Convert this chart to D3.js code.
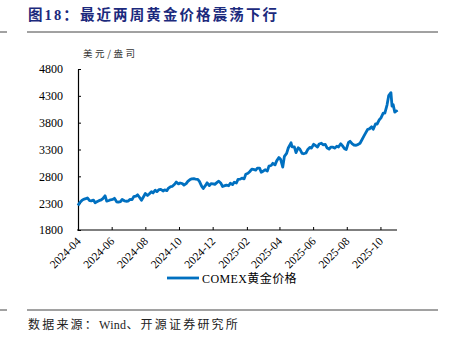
<!DOCTYPE html>
<html><head><meta charset="utf-8">
<script src="https://cdn.jsdelivr.net/npm/d3@7/dist/d3.min.js"></script>
<style>
html,body{margin:0;padding:0;background:#fff;}
svg{display:block;}
</style></head>
<body>
<svg id="c" width="449" height="343"></svg>
<script>
const title = "图18：最近两周黄金价格震荡下行";
const unitLabel = "美元/盎司";
const sourceParts = ["数据来源：", "Wind", "、开源证券研究所"];
const seriesName = "COMEX黄金价格";
const yTicks = [1800, 2300, 2800, 3300, 3800, 4300, 4800];
const xTickLabels = ["2024-04","2024-06","2024-08","2024-10","2024-12","2025-02","2025-04","2025-06","2025-08","2025-10"];
const dates = [
"2024-04-01","2024-04-04","2024-04-08","2024-04-11","2024-04-15","2024-04-18","2024-04-22","2024-04-25","2024-04-29",
"2024-05-02","2024-05-06","2024-05-09","2024-05-13","2024-05-16","2024-05-20","2024-05-23","2024-05-27","2024-05-30",
"2024-06-03","2024-06-06","2024-06-10","2024-06-13","2024-06-17","2024-06-20","2024-06-24","2024-06-27",
"2024-07-01","2024-07-04","2024-07-08","2024-07-11","2024-07-15","2024-07-18","2024-07-22","2024-07-25","2024-07-29",
"2024-08-01","2024-08-05","2024-08-08","2024-08-12","2024-08-15","2024-08-19","2024-08-22","2024-08-26","2024-08-29",
"2024-09-02","2024-09-05","2024-09-09","2024-09-12","2024-09-16","2024-09-19","2024-09-23","2024-09-26","2024-09-30",
"2024-10-03","2024-10-07","2024-10-10","2024-10-14","2024-10-17","2024-10-21","2024-10-24","2024-10-28","2024-10-31",
"2024-11-04","2024-11-07","2024-11-11","2024-11-14","2024-11-18","2024-11-21","2024-11-25","2024-11-28",
"2024-12-02","2024-12-05","2024-12-09","2024-12-12","2024-12-16","2024-12-19","2024-12-23","2024-12-26","2024-12-30",
"2025-01-02","2025-01-06","2025-01-09","2025-01-13","2025-01-16","2025-01-20","2025-01-23","2025-01-27","2025-01-30",
"2025-02-03","2025-02-06","2025-02-10","2025-02-13","2025-02-17","2025-02-20","2025-02-24","2025-02-27",
"2025-03-03","2025-03-06","2025-03-10","2025-03-13","2025-03-17","2025-03-20","2025-03-24","2025-03-27","2025-03-31",
"2025-04-03","2025-04-07","2025-04-10","2025-04-14","2025-04-17","2025-04-22","2025-04-24","2025-04-28",
"2025-05-01","2025-05-05","2025-05-08","2025-05-12","2025-05-15","2025-05-19","2025-05-22","2025-05-26","2025-05-29",
"2025-06-02","2025-06-05","2025-06-09","2025-06-12","2025-06-16","2025-06-19","2025-06-23","2025-06-26","2025-06-30",
"2025-07-03","2025-07-07","2025-07-10","2025-07-14","2025-07-17","2025-07-21","2025-07-24","2025-07-28","2025-07-31",
"2025-08-04","2025-08-07","2025-08-11","2025-08-14","2025-08-18","2025-08-21","2025-08-25","2025-08-28",
"2025-09-01","2025-09-04","2025-09-08","2025-09-11","2025-09-15","2025-09-18","2025-09-22","2025-09-25","2025-09-29",
"2025-10-02","2025-10-06","2025-10-09","2025-10-13","2025-10-16","2025-10-20","2025-10-22","2025-10-24","2025-10-27","2025-10-30","2025-10-31"
];
const prices = [
2257,2308,2351,2372,2383,2398,2346,2342,2357,
2309,2331,2346,2360,2385,2438,2337,2350,2363,
2369,2390,2326,2318,2330,2369,2344,2336,
2339,2370,2367,2421,2432,2456,2401,2353,2425,
2480,2444,2470,2513,2491,2542,2515,2553,2557,
2527,2546,2534,2581,2610,2614,2652,2694,2659,
2676,2665,2636,2665,2707,2740,2753,2755,2749,
2744,2706,2617,2573,2631,2679,2628,2664,
2660,2651,2687,2709,2669,2611,2626,2637,2625,
2670,2646,2690,2675,2744,2748,2766,2753,2840,
2857,2885,2933,2929,2917,2954,2953,2875,
2900,2922,2899,2991,3002,3043,3014,3088,3150,
3119,2972,3173,3228,3328,3425,3349,3347,
3241,3333,3306,3228,3221,3235,3295,3340,3325,
3397,3375,3346,3403,3417,3388,3395,3333,3307,
3346,3343,3325,3360,3346,3406,3373,3314,3298,
3427,3453,3404,3384,3378,3390,3417,3473,
3549,3604,3677,3684,3722,3677,3775,3775,3855,
3890,3976,3977,4133,4304,4359,4109,4137,3997,4020,3996
];

const svg = d3.select("#c");
const serif = "'Liberation Serif','Times New Roman',serif";
const cjk = "'Liberation Serif','Noto Sans CJK SC',serif";

// header / footer
svg.append("text").attr("x",28).attr("y",20).attr("fill","#1c2a7d")
  .attr("font-family","'Liberation Serif','Noto Sans CJK SC',serif").attr("font-weight","bold")
  .attr("font-size",14.5).attr("letter-spacing",2.1).text(title);
[32,310].forEach(yy=>{
  svg.append("line").attr("x1",0).attr("x2",7).attr("y1",yy).attr("y2",yy).attr("stroke","#444").attr("stroke-width",1);
  svg.append("line").attr("x1",27).attr("x2",438).attr("y1",yy).attr("y2",yy).attr("stroke","#444").attr("stroke-width",1);
});
const src = svg.append("text").attr("x",28).attr("y",329).attr("fill","#222")
  .attr("font-family",cjk).attr("font-size",12);
sourceParts.forEach((p,i)=>{
  src.append("tspan").attr("letter-spacing", i===1 ? 0.3 : 2.2).text(p);
});

const parse = d3.timeParse("%Y-%m-%d");
const data = dates.map((d,i)=>({date:parse(d), v:prices[i]}));

const x = d3.scaleTime().domain([parse("2024-04-01"), parse("2025-10-31")]).range([78,397]);
const y = d3.scaleLinear().domain([1800,4800]).range([230,69]);

svg.append("text").attr("x",83).attr("y",57).attr("fill","#333")
  .attr("font-family","'Noto Sans CJK SC',sans-serif").attr("font-size",9.5).attr("letter-spacing",2.6).text(unitLabel);

// y axis
const yAxis = svg.append("g").attr("transform","translate(78,0)")
  .call(d3.axisLeft(y).tickValues(yTicks).tickSizeInner(-3).tickSizeOuter(0).tickPadding(15).tickFormat(d3.format("d")));
yAxis.select(".domain").attr("stroke","#000").attr("stroke-width",1.2);
yAxis.selectAll(".tick line").attr("stroke","#000");
yAxis.selectAll("text").attr("font-family",serif).attr("font-size",12).attr("fill","#000");

// x axis
const xTickDates = xTickLabels.map(s=>parse(s+"-01"));
const xAxis = svg.append("g").attr("transform","translate(0,230)")
  .call(d3.axisBottom(x).tickValues(xTickDates).tickSizeInner(-3).tickSizeOuter(0).tickFormat(d3.timeFormat("%Y-%m")));
xAxis.select(".domain").attr("stroke","#000").attr("stroke-width",1.2).attr("d","M77,0H397");
xAxis.selectAll(".tick line").attr("stroke","#000");
xAxis.selectAll("text").attr("font-family",serif).attr("font-size",11.5).attr("fill","#000")
  .attr("text-anchor","end").attr("dy",0).attr("y",0)
  .attr("transform","translate(3,12) rotate(-45)");

// line
const line = d3.line().x(d=>x(d.date)).y(d=>y(d.v));
svg.append("path").datum(data).attr("d",line).attr("fill","none")
  .attr("stroke","#0070c0").attr("stroke-width",2.8).attr("stroke-linejoin","round");

// legend
svg.append("line").attr("x1",167).attr("x2",199).attr("y1",278).attr("y2",278)
  .attr("stroke","#0070c0").attr("stroke-width",2.8);
svg.append("text").attr("x",202).attr("y",283).attr("fill","#000")
  .attr("font-family",cjk).attr("font-size",12).attr("letter-spacing",0.4).text(seriesName);
</script>
</body></html>
